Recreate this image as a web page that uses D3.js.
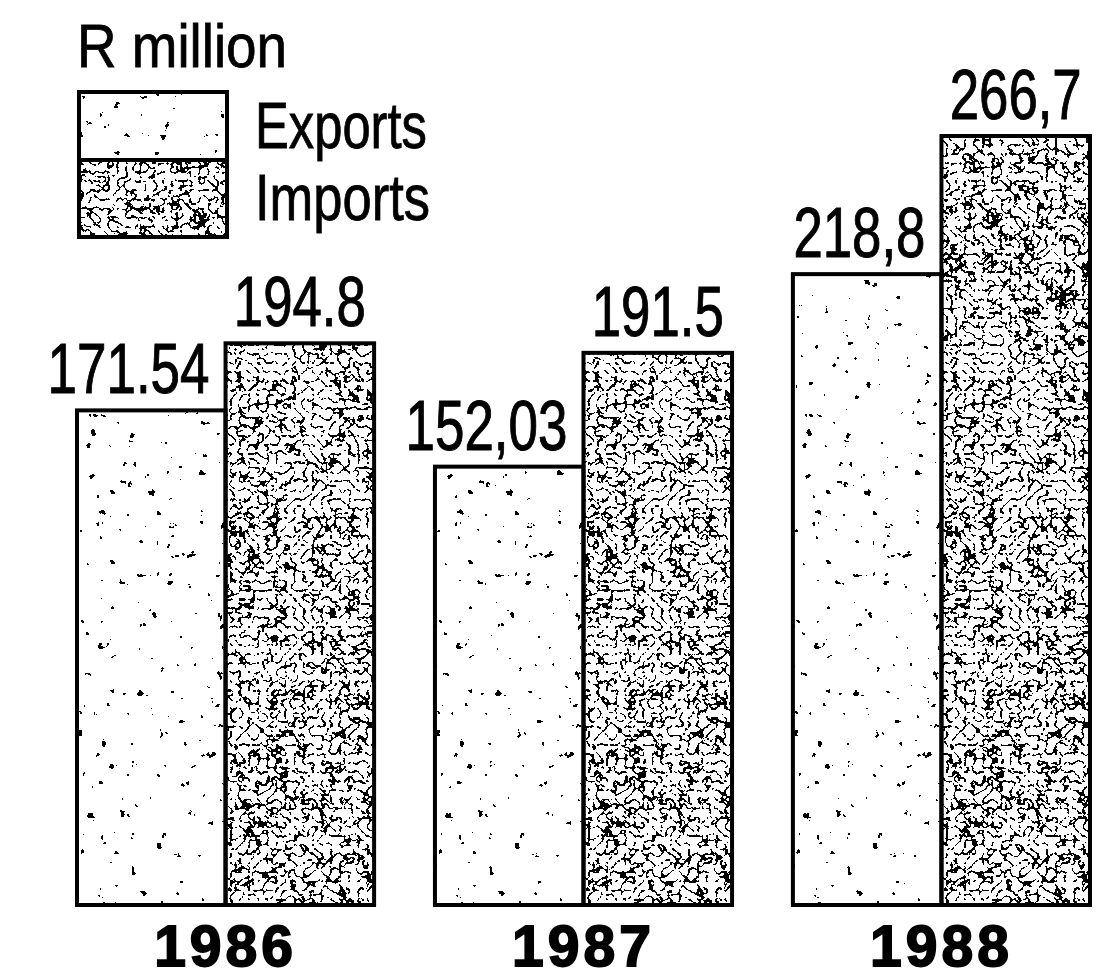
<!DOCTYPE html>
<html>
<head>
<meta charset="utf-8">
<script src="https://cdn.jsdelivr.net/npm/d3@7"></script>
<style>
  html, body { margin: 0; padding: 0; background: #fff; }
  svg { display: block; }
</style>
</head>
<body>
<script>
// Trade in R million, 1986-1988
const years = ["1986", "1987", "1988"];
const seriesNames = ["Exports", "Imports"];
const exportsValues = [171.54, 152.03, 218.8];
const importsValues = [194.8, 191.5, 266.7];
// decimal separator printed with each value
const exportsSeparators = [".", ",", ","];
const importsSeparators = [".", ".", ","];
const unitLabel = "R million";

const W = 1106, H = 978;

const svg = d3.select("body").append("svg")
  .attr("width", W).attr("height", H)
  .attr("viewBox", `0 0 ${W} ${H}`);

svg.append("rect").attr("width", W).attr("height", H).attr("fill", "#fff");

// ---- printed stipple textures ----
const defs = svg.append("defs");

function stippleFilter(id, kind, freq, octaves, seed, table) {
  const f = defs.append("filter").attr("id", id)
    .attr("x", 0).attr("y", 0).attr("width", 1).attr("height", 1)
    .attr("color-interpolation-filters", "sRGB");
  f.append("feTurbulence").attr("type", kind)
    .attr("baseFrequency", freq).attr("numOctaves", octaves)
    .attr("seed", seed).attr("result", "noise");
  f.append("feColorMatrix").attr("in", "noise").attr("type", "matrix")
    .attr("values", "0 0 0 0 0  0 0 0 0 0  0 0 0 0 0  1 0 0 0 0")
    .attr("result", "lum");
  f.append("feComponentTransfer").attr("in", "lum")
    .append("feFuncA").attr("type", "discrete").attr("tableValues", table);
}
// dense worm-like screen for imports, scattered specks for exports
stippleFilter("stipple-dense", "turbulence", "0.11", 2, 7,
  "1 1 0 0 0 0 0 0 0 0 0 0 0 0");
stippleFilter("stipple-sparse", "fractalNoise", "0.1", 3, 3,
  "0 0 0 0 0 0 0 0 0 0 0 0 0 0 0 1 1 1 1 1");

const fillFor = { Exports: "url(#stipple-sparse)", Imports: "url(#stipple-dense)" };

// ---- scales ----
const x0 = d3.scaleBand().domain(years).range([77, 1090]).paddingInner(0.17);
const x1 = d3.scaleBand().domain(seriesNames).range([0, x0.bandwidth()]);
const y = d3.scaleLinear().domain([0, 300]).range([905, 40]);

const rows = years.map((yr, i) => ({
  year: yr,
  bars: [
    { key: "Exports", value: exportsValues[i], sep: exportsSeparators[i] },
    { key: "Imports", value: importsValues[i], sep: importsSeparators[i] }
  ]
}));

const condensed = "'Liberation Sans Narrow', 'Liberation Sans', sans-serif";

// width of a printed figure: digits are wide, separators narrow
function figureWidth(s) {
  let w = 0;
  for (const ch of s) w += /[0-9]/.test(ch) ? 30 : 12;
  return w;
}

// condensed type: draw a text at the origin of a group, then squeeze the
// group horizontally so the text spans exactly `width` pixels from (x, yBase)
function condensedText(parent, str, x, yBase, width, size, weight) {
  const g = parent.append("g");
  const t = g.append("text")
    .attr("x", 0).attr("y", 0)
    .attr("font-family", condensed)
    .attr("font-size", size)
    .attr("fill", "#000")
    .attr("stroke", "#000")
    .attr("stroke-width", weight)
    .style("white-space", "pre")
    .text(str);
  const natural = t.node().getComputedTextLength() || width;
  g.attr("transform", `translate(${x},${yBase}) scale(${width / natural},1)`);
  return g;
}

const groups = svg.selectAll("g.year").data(rows).join("g")
  .attr("class", "year")
  .attr("transform", d => `translate(${x0(d.year)},0)`);

// textures
groups.selectAll("rect.tex").data(d => d.bars).join("rect")
  .attr("class", "tex")
  .attr("x", d => x1(d.key))
  .attr("y", d => y(d.value))
  .attr("width", x1.bandwidth())
  .attr("height", d => y(0) - y(d.value))
  .attr("fill", "#000")
  .attr("filter", d => fillFor[d.key]);

// outlines
groups.selectAll("rect.bar").data(d => d.bars).join("rect")
  .attr("class", "bar")
  .attr("x", d => x1(d.key))
  .attr("y", d => y(d.value))
  .attr("width", x1.bandwidth())
  .attr("height", d => y(0) - y(d.value))
  .attr("fill", "none")
  .attr("stroke", "#000")
  .attr("stroke-width", 4);

// value labels
groups.each(function (row) {
  const g = d3.select(this);
  row.bars.forEach(d => {
    const label = String(d.value).replace(".", d.sep);
    const w = figureWidth(label);
    const lx = d.key === "Exports"
      ? x1(d.key) + x1.bandwidth() - 16 - w
      : x1(d.key) + x1.bandwidth() / 2 - w / 2;
    condensedText(g, label, lx, y(d.value) - 17, w, 71, 1);
  });
});

// year labels
groups.append("text")
  .attr("x", x0.bandwidth() / 2)
  .attr("y", 966)
  .attr("text-anchor", "middle")
  .attr("font-family", "'Liberation Sans', Arial, sans-serif")
  .attr("font-weight", "bold")
  .attr("font-size", 57)
  .attr("stroke", "#000")
  .attr("stroke-width", 1.8)
  .attr("letter-spacing", 4)
  .text(d => d.year);

// ---- unit and legend ----
condensedText(svg, unitLabel, 77, 67, 210, 61, 0.8);

const legend = svg.append("g").attr("class", "legend");
const legendRows = [
  { key: "Exports", y: 92, h: 68, base: 148, len: 172 },
  { key: "Imports", y: 160, h: 77, base: 220, len: 175 }
];
legend.selectAll("rect.tex").data(legendRows).join("rect")
  .attr("class", "tex")
  .attr("x", 79).attr("y", d => d.y)
  .attr("width", 148).attr("height", d => d.h)
  .attr("fill", "#000")
  .attr("filter", d => fillFor[d.key]);
legend.selectAll("rect.box").data(legendRows).join("rect")
  .attr("class", "box")
  .attr("x", 79).attr("y", d => d.y)
  .attr("width", 148).attr("height", d => d.h)
  .attr("fill", "none").attr("stroke", "#000").attr("stroke-width", 4);
legendRows.forEach(d => condensedText(legend, d.key, 255, d.base, d.len, 65, 0.8));
</script>
</body>
</html>
